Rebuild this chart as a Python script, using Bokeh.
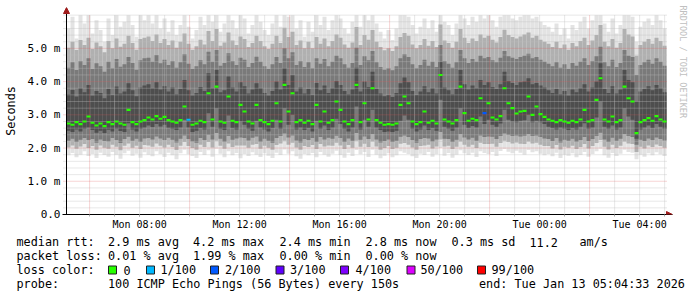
import numpy as np
from bokeh.plotting import figure
from bokeh.layouts import column
from bokeh.models import Range1d, FixedTicker, Arrow, NormalHead, Title, ColumnDataSource
from bokeh.core.properties import value
from bokeh.embed import file_html
from bokeh.resources import INLINE

# ---------------- data ----------------
START_TIME = "2026-01-12T05:04:33"
END_TIME = "2026-01-13T05:04:33"
BIN_SECONDS = 576  # one value per 9.6 minutes

median_ms = [
    2.74, 2.70, 2.78, 2.72, 2.80, 2.95, 2.76, 2.68, 2.74, 2.66,
    2.78, 2.72, 2.80, 2.74, 2.70, 3.15, 2.78, 2.72, 2.80, 2.84,
    2.92, 2.86, 2.96, 2.88, 2.94, 2.84, 2.80, 2.76, 2.84, 3.25,
    2.85, 2.70, 2.74, 2.82, 2.78, 3.65, 2.86, 3.85, 2.80, 2.76,
    3.55, 2.82, 2.78, 3.30, 3.10, 2.80, 2.74, 3.30, 2.84, 2.78,
    2.72, 2.82, 3.35, 2.80, 3.90, 3.10, 3.65, 2.78, 2.84, 2.76,
    2.82, 2.72, 3.30, 2.80, 3.10, 2.76, 2.84, 3.40, 3.15, 2.80,
    2.72, 2.84, 3.90, 2.78, 3.35, 2.86, 3.80, 2.84, 2.76, 2.70,
    2.72, 2.70, 2.74, 3.30, 3.55, 3.35, 2.80, 2.72, 2.78, 3.10,
    2.76, 2.82, 2.74, 4.20, 2.86, 2.80, 2.74, 2.84, 3.85, 3.05,
    2.82, 2.88, 2.84, 3.50, 3.05, 3.35, 2.92, 2.86, 2.96, 3.80,
    3.35, 3.20, 3.04, 3.10, 3.12, 3.55, 3.00, 3.25, 3.02, 2.94,
    2.86, 2.82, 2.78, 2.84, 2.80, 2.76, 2.82, 2.78, 2.86, 3.15,
    2.80, 2.84, 3.45, 4.10, 2.86, 2.80, 2.95, 2.78, 2.84, 3.85,
    3.50, 3.40, 2.45, 2.78, 2.84, 2.90, 2.82, 2.96, 2.86, 2.80,
]

loss_pct = [
    0, 0, 0, 0, 0, 0, 0, 0, 0, 0,
    0, 0, 0, 0, 0, 0, 0, 0, 0, 0,
    0, 0, 0, 0, 0, 0, 0, 0, 0, 0,
    1, 0, 0, 0, 0, 0, 0, 0, 0, 0,
    0, 0, 0, 0, 0, 0, 0, 0, 0, 0,
    0, 0, 0, 0, 0, 0, 0, 0, 0, 0,
    0, 0, 0, 0, 0, 0, 0, 0, 0, 0,
    0, 0, 0, 0, 0, 0, 0, 0, 0, 0,
    0, 0, 0, 0, 0, 0, 0, 0, 0, 0,
    0, 0, 0, 0, 0, 0, 0, 0, 0, 0,
    0, 0, 0, 0, 2, 0, 0, 0, 0, 0,
    0, 0, 0, 0, 0, 0, 0, 0, 0, 0,
    0, 0, 0, 0, 0, 0, 0, 0, 0, 0,
    0, 0, 0, 0, 0, 0, 0, 0, 0, 0,
    0, 0, 0, 0, 0, 0, 0, 0, 0, 0,
]

ping_min = [
    1.78, 1.85, 1.72, 1.80, 1.90, 1.76, 1.82, 1.70, 1.86, 1.79,
    1.74, 1.88, 1.80, 1.68, 1.84, 1.92, 1.77, 1.83, 1.71, 1.87,
    1.80, 1.75, 1.90, 1.82, 1.73, 1.86, 1.78, 1.66, 1.84, 1.95,
    1.81, 1.76, 1.70, 1.88, 1.79, 1.93, 1.74, 1.98, 1.83, 1.72,
    1.90, 1.78, 1.85, 1.69, 1.82, 1.76, 1.87, 1.80, 1.73, 1.84,
    1.77, 1.70, 1.86, 1.79, 1.96, 1.83, 1.90, 1.75, 1.68, 1.82,
    1.78, 1.85, 1.72, 1.88, 1.80, 1.74, 1.83, 1.92, 1.79, 1.71,
    1.86, 1.76, 1.94, 1.81, 1.88, 1.73, 1.95, 1.80, 1.69, 1.77,
    1.84, 1.72, 1.78, 1.90, 1.86, 1.82, 1.75, 1.70, 1.83, 1.79,
    1.88, 1.74, 1.81, 2.00, 1.77, 1.85, 1.71, 1.80, 1.93, 1.84,
    1.79, 1.86, 1.73, 1.90, 1.85, 1.82, 1.88, 1.76, 1.91, 1.97,
    1.89, 1.84, 1.92, 1.86, 1.80, 1.94, 1.87, 1.90, 1.83, 1.78,
    1.82, 1.75, 1.86, 1.70, 1.80, 1.77, 1.84, 1.72, 1.79, 1.88,
    1.74, 1.82, 1.90, 1.98, 1.78, 1.71, 1.85, 1.76, 1.83, 1.95,
    1.88, 1.86, 1.66, 1.80, 1.74, 1.84, 1.78, 1.87, 1.81, 1.76,
]

ping_p5 = [
    2.02, 2.08, 1.98, 2.05, 2.12, 2.00, 2.06, 1.95, 2.08, 2.01,
    1.98, 2.10, 2.04, 1.93, 2.07, 2.14, 2.01, 2.07, 1.97, 2.09,
    2.08, 2.04, 2.14, 2.07, 2.02, 2.10, 2.03, 1.94, 2.07, 2.18,
    2.06, 2.00, 1.95, 2.10, 2.03, 2.18, 2.02, 2.22, 2.07, 1.98,
    2.14, 2.03, 2.08, 2.08, 2.08, 2.01, 2.10, 2.12, 1.98, 2.07,
    2.01, 1.95, 2.09, 2.14, 2.22, 2.10, 2.16, 2.02, 1.95, 2.06,
    2.03, 2.09, 1.97, 2.12, 2.05, 2.08, 2.07, 2.16, 2.08, 1.97,
    2.09, 2.01, 2.22, 2.04, 2.13, 2.03, 2.20, 2.05, 1.95, 2.00,
    2.06, 1.97, 2.01, 2.13, 2.15, 2.10, 2.02, 1.95, 2.06, 2.08,
    2.10, 1.99, 2.05, 2.26, 2.05, 2.07, 1.97, 2.04, 2.20, 2.10,
    2.04, 2.10, 2.00, 2.16, 2.12, 2.12, 2.13, 2.04, 2.15, 2.22,
    2.18, 2.14, 2.17, 2.13, 2.12, 2.20, 2.14, 2.16, 2.10, 2.06,
    2.06, 1.99, 2.09, 1.96, 2.04, 2.01, 2.07, 1.97, 2.03, 2.12,
    1.99, 2.06, 2.15, 2.24, 2.04, 1.96, 2.10, 2.00, 2.07, 2.20,
    2.14, 2.12, 1.88, 2.04, 1.99, 2.08, 2.03, 2.11, 2.06, 2.01,
]

ping_p10 = [
    2.22, 2.28, 2.18, 2.25, 2.30, 2.24, 2.27, 2.16, 2.26, 2.21,
    2.20, 2.30, 2.24, 2.15, 2.27, 2.34, 2.22, 2.28, 2.18, 2.29,
    2.30, 2.26, 2.35, 2.29, 2.24, 2.31, 2.25, 2.17, 2.28, 2.38,
    2.27, 2.20, 2.16, 2.30, 2.24, 2.40, 2.26, 2.45, 2.28, 2.19,
    2.36, 2.25, 2.29, 2.32, 2.30, 2.23, 2.31, 2.35, 2.19, 2.28,
    2.22, 2.16, 2.30, 2.36, 2.44, 2.32, 2.38, 2.23, 2.17, 2.27,
    2.24, 2.30, 2.18, 2.33, 2.26, 2.31, 2.28, 2.37, 2.30, 2.18,
    2.29, 2.22, 2.45, 2.25, 2.35, 2.27, 2.42, 2.26, 2.17, 2.21,
    2.26, 2.18, 2.22, 2.34, 2.38, 2.33, 2.24, 2.16, 2.27, 2.30,
    2.29, 2.20, 2.26, 2.48, 2.28, 2.27, 2.18, 2.25, 2.42, 2.32,
    2.26, 2.31, 2.22, 2.38, 2.33, 2.35, 2.34, 2.27, 2.36, 2.44,
    2.40, 2.36, 2.38, 2.35, 2.37, 2.42, 2.36, 2.38, 2.33, 2.29,
    2.27, 2.21, 2.30, 2.17, 2.25, 2.22, 2.28, 2.19, 2.24, 2.33,
    2.21, 2.27, 2.36, 2.46, 2.26, 2.18, 2.31, 2.22, 2.28, 2.42,
    2.36, 2.33, 2.10, 2.25, 2.21, 2.29, 2.24, 2.32, 2.27, 2.23,
]

ping_p25 = [
    2.52, 2.48, 2.56, 2.50, 2.58, 2.62, 2.54, 2.46, 2.52, 2.45,
    2.55, 2.50, 2.58, 2.51, 2.48, 2.75, 2.56, 2.50, 2.58, 2.62,
    2.68, 2.63, 2.72, 2.65, 2.70, 2.61, 2.58, 2.54, 2.62, 2.85,
    2.62, 2.48, 2.52, 2.60, 2.56, 3.05, 2.64, 3.20, 2.58, 2.54,
    2.98, 2.60, 2.56, 2.80, 2.70, 2.58, 2.52, 2.82, 2.62, 2.56,
    2.50, 2.60, 2.85, 2.58, 3.20, 2.70, 3.00, 2.56, 2.62, 2.54,
    2.60, 2.50, 2.82, 2.58, 2.68, 2.54, 2.62, 2.88, 2.72, 2.58,
    2.50, 2.62, 3.25, 2.56, 2.85, 2.64, 3.15, 2.62, 2.54, 2.48,
    2.50, 2.48, 2.52, 2.82, 2.98, 2.85, 2.58, 2.50, 2.56, 2.68,
    2.54, 2.60, 2.52, 3.45, 2.64, 2.58, 2.52, 2.62, 3.20, 2.70,
    2.60, 2.66, 2.62, 2.95, 2.72, 2.85, 2.70, 2.64, 2.74, 3.15,
    2.85, 2.80, 2.78, 2.82, 2.84, 3.00, 2.78, 2.82, 2.78, 2.72,
    2.64, 2.60, 2.56, 2.62, 2.58, 2.54, 2.60, 2.56, 2.64, 2.75,
    2.58, 2.62, 2.92, 3.40, 2.64, 2.58, 2.68, 2.56, 2.62, 3.20,
    2.95, 2.85, 2.28, 2.56, 2.62, 2.68, 2.60, 2.72, 2.64, 2.58,
]

ping_p75 = [
    3.62, 3.75, 3.55, 3.80, 3.68, 3.90, 3.58, 3.72, 3.66, 3.50,
    3.78, 3.60, 3.85, 3.64, 3.70, 3.95, 3.74, 3.56, 3.82, 3.88,
    3.92, 3.80, 3.98, 3.76, 3.86, 3.70, 3.82, 3.62, 3.78, 4.05,
    3.74, 3.58, 3.66, 3.84, 3.72, 4.25, 3.80, 4.35, 3.68, 3.74,
    4.15, 3.82, 3.70, 3.98, 3.86, 3.64, 3.76, 3.95, 3.80, 3.66,
    3.58, 3.72, 4.00, 3.76, 4.40, 3.90, 4.20, 3.70, 3.82, 3.64,
    3.78, 3.60, 3.96, 3.74, 3.88, 3.66, 3.80, 4.02, 3.90, 3.72,
    3.62, 3.76, 4.42, 3.70, 4.00, 3.84, 4.30, 3.78, 3.64, 3.56,
    3.60, 3.54, 3.66, 3.95, 4.12, 3.98, 3.72, 3.60, 3.70, 3.86,
    3.68, 3.80, 3.64, 4.60, 3.82, 3.74, 3.62, 3.78, 4.35, 3.92,
    3.76, 3.88, 3.80, 4.05, 3.90, 3.98, 3.84, 3.78, 3.92, 4.30,
    4.02, 3.96, 3.90, 3.98, 4.00, 4.10, 3.92, 3.96, 3.88, 3.82,
    3.74, 3.66, 3.78, 3.62, 3.72, 3.58, 3.76, 3.68, 3.80, 3.92,
    3.70, 3.82, 4.00, 4.55, 3.78, 3.66, 3.86, 3.64, 3.76, 4.35,
    4.05, 3.98, 3.40, 3.70, 3.78, 3.86, 3.74, 3.90, 3.80, 3.68,
]

ping_p90 = [
    4.42, 4.58, 4.35, 4.62, 4.50, 4.70, 4.38, 4.55, 4.46, 4.30,
    4.60, 4.40, 4.68, 4.45, 4.52, 4.74, 4.56, 4.36, 4.64, 4.70,
    4.72, 4.60, 4.80, 4.55, 4.66, 4.50, 4.62, 4.42, 4.58, 4.82,
    4.54, 4.38, 4.46, 4.64, 4.52, 4.90, 4.60, 4.95, 4.48, 4.56,
    4.85, 4.62, 4.50, 4.72, 4.66, 4.44, 4.56, 4.75, 4.60, 4.46,
    4.38, 4.52, 4.74, 4.56, 5.00, 4.70, 4.88, 4.50, 4.62, 4.44,
    4.58, 4.40, 4.70, 4.54, 4.68, 4.46, 4.60, 4.78, 4.70, 4.52,
    4.42, 4.56, 5.02, 4.50, 4.76, 4.64, 4.92, 4.58, 4.44, 4.36,
    4.40, 4.34, 4.46, 4.70, 4.82, 4.74, 4.52, 4.40, 4.50, 4.66,
    4.48, 4.60, 4.44, 5.10, 4.62, 4.54, 4.42, 4.58, 4.95, 4.70,
    4.56, 4.68, 4.60, 4.78, 4.70, 4.74, 4.64, 4.58, 4.72, 4.92,
    4.76, 4.72, 4.68, 4.74, 4.78, 4.84, 4.70, 4.74, 4.66, 4.60,
    4.54, 4.46, 4.58, 4.42, 4.52, 4.38, 4.56, 4.48, 4.60, 4.70,
    4.50, 4.62, 4.76, 5.05, 4.58, 4.46, 4.66, 4.44, 4.56, 4.95,
    4.78, 4.74, 4.20, 4.50, 4.58, 4.66, 4.54, 4.70, 4.60, 4.48,
]

ping_p95 = [
    5.02, 5.20, 4.95, 5.25, 5.10, 5.32, 4.98, 5.18, 5.06, 4.88,
    5.22, 5.00, 5.30, 5.05, 5.14, 5.38, 5.16, 4.96, 5.28, 5.32,
    5.36, 5.22, 5.42, 5.16, 5.28, 5.10, 5.24, 5.02, 5.20, 5.45,
    5.14, 4.96, 5.06, 5.26, 5.12, 5.52, 5.22, 5.58, 5.08, 5.18,
    5.48, 5.24, 5.10, 5.36, 5.28, 5.04, 5.16, 5.38, 5.22, 5.06,
    4.98, 5.14, 5.38, 5.16, 5.62, 5.34, 5.50, 5.10, 5.24, 5.00,
    5.20, 5.00, 5.34, 5.14, 5.30, 5.06, 5.22, 5.42, 5.32, 5.12,
    5.02, 5.18, 5.64, 5.10, 5.40, 5.26, 5.55, 5.20, 5.04, 4.94,
    5.00, 4.92, 5.06, 5.34, 5.46, 5.38, 5.12, 5.00, 5.10, 5.28,
    5.08, 5.22, 5.04, 5.72, 5.24, 5.16, 5.02, 5.20, 5.58, 5.32,
    5.16, 5.30, 5.22, 5.42, 5.32, 5.38, 5.26, 5.18, 5.34, 5.56,
    5.40, 5.34, 5.30, 5.36, 5.42, 5.48, 5.32, 5.38, 5.26, 5.20,
    5.14, 5.04, 5.20, 5.00, 5.12, 4.96, 5.16, 5.06, 5.22, 5.32,
    5.10, 5.24, 5.40, 5.70, 5.20, 5.06, 5.28, 5.02, 5.16, 5.58,
    5.42, 5.36, 4.78, 5.10, 5.20, 5.28, 5.14, 5.32, 5.22, 5.08,
]

ping_max = [
    5.60, 5.95, 5.30, 6.00, 5.75, 6.00, 5.45, 5.85, 5.55, 5.20,
    5.90, 5.40, 6.00, 5.65, 5.80, 6.00, 5.70, 5.35, 6.00, 5.85,
    6.00, 5.75, 6.00, 5.60, 5.90, 5.50, 5.85, 5.40, 5.70, 6.00,
    5.65, 5.30, 5.55, 5.95, 5.70, 6.00, 5.80, 6.00, 5.50, 5.75,
    6.00, 5.85, 5.60, 6.00, 5.90, 5.45, 5.70, 6.00, 5.80, 5.55,
    5.40, 5.75, 6.00, 5.65, 6.00, 5.95, 6.00, 5.60, 5.85, 5.35,
    5.80, 5.50, 6.00, 5.70, 5.95, 5.55, 5.85, 6.00, 5.90, 5.60,
    5.45, 5.80, 6.00, 5.65, 6.00, 5.85, 6.00, 5.75, 5.50, 5.30,
    5.55, 5.25, 5.60, 6.00, 6.00, 5.95, 5.70, 5.45, 5.65, 5.90,
    5.60, 5.85, 5.50, 6.00, 5.80, 5.70, 5.40, 5.75, 6.00, 5.90,
    5.70, 5.95, 5.80, 6.00, 5.90, 6.00, 5.85, 5.65, 5.95, 6.00,
    6.00, 5.90, 5.85, 5.95, 6.00, 6.00, 5.90, 5.95, 5.80, 5.70,
    5.65, 5.50, 5.75, 5.40, 5.60, 5.30, 5.70, 5.55, 5.80, 5.95,
    5.60, 5.85, 6.00, 6.00, 5.75, 5.50, 5.90, 5.45, 5.70, 6.00,
    6.00, 5.95, 5.20, 5.65, 5.80, 5.90, 5.70, 6.00, 5.85, 5.60,
]

x_tick_times = ["2026-01-12T08:00", "2026-01-12T12:00", "2026-01-12T16:00",
                "2026-01-12T20:00", "2026-01-13T00:00", "2026-01-13T04:00"]
x_tick_labels = ["Mon 08:00", "Mon 12:00", "Mon 16:00", "Mon 20:00", "Tue 00:00", "Tue 04:00"]
y_ticks = [0, 1, 2, 3, 4, 5]
y_tick_labels = ["0.0", "1.0 m", "2.0 m", "3.0 m", "4.0 m", "5.0 m"]

loss_levels = [0, 1, 2, 3, 4, 50, 99]
loss_labels = ["0", "1/100", "2/100", "3/100", "4/100", "50/100", "99/100"]
loss_colors = ["#26ff00", "#00b8ff", "#0059ff", "#5e00ff", "#7e00ff", "#dd00ff", "#ff0000"]

median_stats = ["2.9 ms avg", "4.2 ms max", "2.4 ms min", "2.8 ms now", "0.3 ms sd", "11.2", "am/s"]
loss_stats = ["0.01 % avg", "1.99 % max", "0.00 % min", "0.00 % now"]
probe_text = "100 ICMP Echo Pings (56 Bytes) every 150s"
end_text = "end: Tue Jan 13 05:04:33 2026"

# ---------------- helpers ----------------
def to_ms(s):
    return float(np.datetime64(s, "ms").astype(np.int64))

MONO = "DejaVu Sans Mono"
t0 = to_ms(START_TIME)
t1 = to_ms(END_TIME)
bin_ms = BIN_SECONDS * 1000.0
px_ms = 144 * 1000.0          # one pixel of time axis
n = len(median_ms)
lefts = [t0 + i * bin_ms for i in range(n)]
rights = [l + bin_ms for l in lefts]
color_of = dict(zip(loss_levels, loss_colors))

src = ColumnDataSource(dict(
    left=lefts, right=rights,
    pmin=ping_min, p5=ping_p5, p10=ping_p10, p25=ping_p25,
    p75=ping_p75, p90=ping_p90, p95=ping_p95, pmax=ping_max,
    med_lo=[m - 0.032 for m in median_ms], med_hi=[m + 0.032 for m in median_ms],
    mcolor=[color_of[l] for l in loss_pct],
))

x_start = t0 - 4 * px_ms     # small overhang left of the value axis
x_end = t1 + 6 * px_ms       # room for the time-axis arrow
y_top = 6.23

p = figure(width=697, height=232, output_backend="svg", toolbar_location=None, title=None,
           x_range=Range1d(x_start, x_end), y_range=Range1d(0, y_top),
           min_border_left=62, min_border_right=25, min_border_top=7, min_border_bottom=17)
p.frame_align = False
p.background_fill_color = "white"
p.border_fill_color = "white"
p.outline_line_color = None
p.grid.visible = False

# smoke
for lo, hi, col in [("pmin", "pmax", "#e3e3e3"), ("p5", "p95", "#b0b0b0"),
                    ("p10", "p90", "#7a7a7a"), ("p25", "p75", "#4e4e4e")]:
    p.quad(left="left", right="right", bottom=lo, top=hi, source=src,
           fill_color=col, line_color=None)

# grid (drawn over the smoke like rrdtool)
hours = np.arange(np.datetime64("2026-01-12T06:00"), np.datetime64("2026-01-13T06:00"),
                  np.timedelta64(1, "h"))
hours_ms = [float(h.astype("datetime64[ms]").astype(np.int64)) for h in hours]
hx_minor, hx_major = [], []
for h, ms in zip(hours, hours_ms):
    hh = int(str(h)[11:13])
    (hx_major if hh % 4 == 2 else hx_minor).append(ms)
levels = [round(0.2 * k, 1) for k in range(1, 31)]
lv_major = [v for v in levels if abs(v - round(v)) < 1e-9 and v < 5.5]
lv_minor = [v for v in levels if v not in lv_major]

minor_col = "rgba(190,190,190,0.7)"
major_col = "rgba(225,90,90,0.5)"
gx0 = t0 - 3 * px_ms
p.segment(x0=hx_minor, x1=hx_minor, y0=[0] * len(hx_minor), y1=[6.0] * len(hx_minor),
          line_color=minor_col, line_dash="1 1", line_width=1)
p.segment(x0=[gx0] * len(lv_minor), x1=[t1] * len(lv_minor), y0=lv_minor, y1=lv_minor,
          line_color=minor_col, line_dash="1 1", line_width=1)
p.segment(x0=hx_major, x1=hx_major, y0=[0] * len(hx_major), y1=[6.0] * len(hx_major),
          line_color=major_col, line_dash="1 1", line_width=1)
p.segment(x0=[gx0] * len(lv_major), x1=[t1] * len(lv_major), y0=lv_major, y1=lv_major,
          line_color=major_col, line_dash="1 1", line_width=1)

# median with loss colour
p.quad(left="left", right="right", bottom="med_lo", top="med_hi", source=src,
       fill_color="mcolor", line_color=None)

# value axis line (drawn at the start time, slightly inside the frame)
p.segment(x0=[t0], x1=[t0], y0=[0], y1=[y_top], line_color="black", line_width=1)

# axes
xt = [to_ms(s) for s in x_tick_times]
p.xaxis.ticker = FixedTicker(ticks=xt, minor_ticks=hours_ms)
p.xaxis.major_label_overrides = {t: l for t, l in zip(xt, x_tick_labels)}
p.yaxis.ticker = FixedTicker(ticks=y_ticks, minor_ticks=[])
p.yaxis.major_label_overrides = {t: l for t, l in zip(y_ticks, y_tick_labels)}
for ax in (p.xaxis, p.yaxis):
    ax.major_label_text_font = MONO
    ax.major_label_text_color = "black"
p.xaxis.axis_line_color = "black"
p.xaxis.major_tick_line_color = "#888888"
p.xaxis.minor_tick_line_color = "#aaaaaa"
p.xaxis.major_tick_out = 2
p.xaxis.major_tick_in = 0
p.xaxis.minor_tick_out = 2
p.xaxis.minor_tick_in = 0
p.xaxis.major_label_text_font_size = "10px"
p.xaxis.major_label_standoff = 2
p.yaxis.axis_line_color = None
p.yaxis.major_tick_line_color = None
p.yaxis.minor_tick_line_color = None
p.yaxis.major_tick_out = 0
p.yaxis.major_tick_in = 0
p.yaxis.major_label_text_font_size = "11px"
p.yaxis.major_label_standoff = 2
p.yaxis.axis_label = "Seconds"
p.yaxis.axis_label_text_font = MONO
p.yaxis.axis_label_text_font_size = "11.8px"
p.yaxis.axis_label_text_font_style = "normal"
p.yaxis.axis_label_text_color = "black"
p.yaxis.axis_label_standoff = 6

arrow_col = "#a01c1c"
p.add_layout(Arrow(end=NormalHead(size=6, fill_color=arrow_col, line_color=arrow_col, line_width=1),
                   x_start=t0, y_start=5.9, x_end=t0, y_end=y_top, line_alpha=0))
p.add_layout(Arrow(end=NormalHead(size=6, fill_color=arrow_col, line_color=arrow_col, line_width=1),
                   x_start=t1, y_start=0, x_end=x_end, y_end=0, line_alpha=0))

p.add_layout(Title(text="RRDTOOL / TOBI OETIKER", text_font=MONO, text_font_size="8.5px",
                   text_font_style="normal", text_color="#c0c0c0", align="left",
                   offset=-2, standoff=10), "right")

# ---------------- legend area ----------------
lg = figure(width=697, height=65, output_backend="svg", toolbar_location=None, title=None,
            x_range=Range1d(0, 697), y_range=Range1d(65, 0), min_border=0,
            x_axis_location=None, y_axis_location=None)
lg.frame_align = False
lg.outline_line_color = None
lg.grid.visible = False
lg.background_fill_color = "white"
lg.border_fill_color = "white"

rows_y = [9.5, 23.5, 37.5, 51.5]
tx, ty, tt = [], [], []
def add(x, row, s):
    tx.append(x); ty.append(rows_y[row]); tt.append(s)

add(16, 0, "median rtt:")
for xpos, s in zip([107.5, 192.5, 279, 365, 451, 529, 579], median_stats):
    add(xpos, 0, s)
add(16, 1, "packet loss:")
for xpos, s in zip([107.5, 192.5, 279, 365], loss_stats):
    add(xpos, 1, s)
add(16, 2, "loss color:")
box_x = [108, 146, 210, 275.5, 340, 406.5, 477]
lab_x = [123, 160, 224.5, 289.5, 355, 420, 491]
for xpos, s in zip(lab_x, loss_labels):
    add(xpos, 2, s)
add(16, 3, "probe:")
add(107.5, 3, probe_text)
add(478.5, 3, end_text)

lg.text(x=tx, y=ty, text=tt, text_font=value(MONO), text_font_size="11.8px",
        text_baseline="middle", text_align="left", text_color="black")
lg.quad(left=box_x, right=[b + 8 for b in box_x],
        top=[rows_y[2] - 4] * len(box_x), bottom=[rows_y[2] + 4] * len(box_x),
        fill_color=loss_colors, line_color="#202020", line_width=1)

layout = column(p, lg, spacing=0)
open("out.html", "w").write(file_html(layout, INLINE))
